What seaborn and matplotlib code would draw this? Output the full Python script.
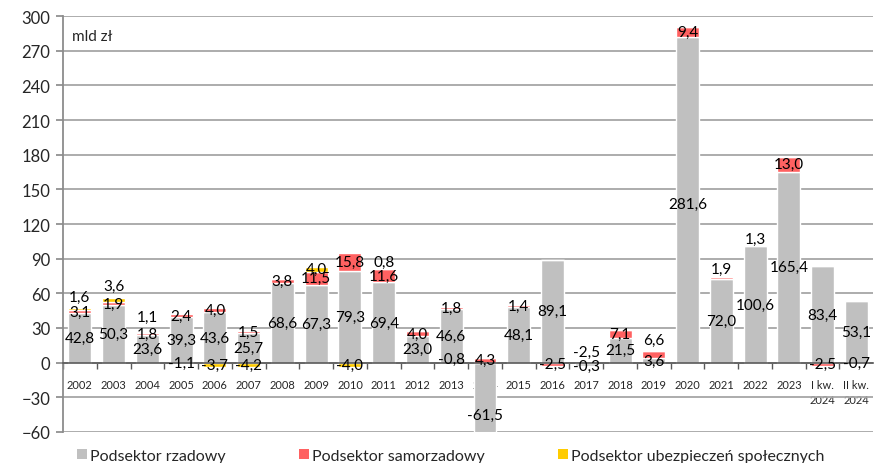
import matplotlib
matplotlib.use("Agg")
import matplotlib.pyplot as plt
from matplotlib.patches import Patch
import numpy as np
import seaborn as sns

# data (mld zł)
categories = ["2002", "2003", "2004", "2005", "2006", "2007", "2008", "2009",
              "2010", "2011", "2012", "2013", "2014", "2015", "2016", "2017",
              "2018", "2019", "2020", "2021", "2022", "2023",
              "I kw.\n2024", "II kw.\n2024"]
rzadowy = [42.8, 50.3, 23.6, 39.3, 43.6, 25.7, 68.6, 67.3, 79.3, 69.4, 23.0, 46.6,
           -61.5, 48.1, 89.1, -2.5, 21.5, 3.6, 281.6, 72.0, 100.6, 165.4, 83.4, 53.1]
samorzadowy = [3.1, 1.9, 1.8, 2.4, 4.0, 1.5, 3.8, 11.5, 15.8, 11.6, 4.0, 1.8,
               4.3, 1.4, -2.5, -0.3, 7.1, 6.6, 9.4, 1.9, 1.3, 13.0, -2.5, -0.7]
ubezpieczen = [1.6, 3.6, 1.1, -1.1, -3.7, -4.2, 0.0, 4.0, -4.0, 0.8, 0.0, -0.8,
               0.0, 0.0, 0.0, 0.0, 0.0, 0.0, 0.0, 0.0, 0.0, 0.0, 0.0, 0.0]
series_names = ["Podsektor rzadowy", "Podsektor samorzadowy",
                "Podsektor ubezpieczeń społecznych"]
colors = ["#c0c0c0", "#ff6161", "#ffcc00"]

# manual label nudges (pixels up), like moved labels in the original
nudges = {(2, 0): 12, (2, 1): 14, (2, 2): 16, (2, 9): 7, (2, 11): 4,
          (1, 19): 9, (1, 20): 7, (1, 17): 15,
          (0, 15): 12, (0, 12): -17, (0, 18): -4}

sns.set_theme(style="white")
plt.rcParams["font.family"] = ["Lato", "DejaVu Sans"]

fig = plt.figure(figsize=(8.75, 4.64), dpi=100)
ax = fig.add_axes([0.072, 0.067, 0.926, 0.896])

x = np.arange(len(categories))
width = 0.68

sns.barplot(x=categories, y=rzadowy, color=colors[0], saturation=1,
            width=width, ax=ax, zorder=2)

pos_base = np.where(np.array(rzadowy) > 0, rzadowy, 0.0)
neg_base = np.where(np.array(rzadowy) < 0, rzadowy, 0.0)
label_pos = [[v / 2 for v in rzadowy]]
for vals, col in [(samorzadowy, colors[1]), (ubezpieczen, colors[2])]:
    vals = np.array(vals)
    bottom = np.where(vals >= 0, pos_base, neg_base)
    ax.bar(x, vals, bottom=bottom, width=width, color=col, zorder=2)
    label_pos.append(list(bottom + vals / 2))
    pos_base = pos_base + np.where(vals > 0, vals, 0)
    neg_base = neg_base + np.where(vals < 0, vals, 0)

# data labels
for s, vals in enumerate([rzadowy, samorzadowy, ubezpieczen]):
    for i, v in enumerate(vals):
        if v == 0:
            continue
        ax.annotate(f"{v:.1f}".replace(".", ","), (i, label_pos[s][i]),
                    xytext=(0, nudges.get((s, i), 0)), textcoords="offset pixels",
                    ha="center", va="center", fontsize=11, color="black", zorder=5)

# axes styling
ax.set_xlim(-0.5, len(categories) - 0.5)
ax.set_ylim(-60, 300)
ax.set_yticks(np.arange(-60, 301, 30))
ax.yaxis.grid(True, color="#a6a6a6", linewidth=1.3, zorder=0)
ax.set_axisbelow(True)
for side in ["top", "right"]:
    ax.spines[side].set_visible(False)
ax.spines["left"].set_color("#8c8c8c")
ax.spines["left"].set_linewidth(1.3)
ax.spines["bottom"].set_position(("data", 0))
ax.spines["bottom"].set_color("#595959")
ax.spines["bottom"].set_linewidth(1.2)
ax.spines["bottom"].set_zorder(4)
ax.tick_params(axis="y", left=True, length=5, color="#8c8c8c", labelsize=12, pad=4)
ax.tick_params(axis="x", which="major", bottom=False, labelsize=8, pad=6)
ax.set_xticks(x - 0.5, minor=True)
ax.tick_params(axis="x", which="minor", bottom=True, length=4, color="#595959")
for lab in ax.get_xticklabels():
    lab.set_linespacing(1.4)
ax.set_xlabel("")
ax.set_ylabel("")

ax.text(0.011, 0.952, "mld zł", transform=ax.transAxes, fontsize=11,
        ha="left", va="center")

handles = [Patch(facecolor=c, edgecolor="none") for c in colors]
fig.legend(handles, series_names, loc="center", bbox_to_anchor=(0.515, 0.015),
           ncol=3, frameon=False, fontsize=11.5, handlelength=0.6, handleheight=0.6,
           handletextpad=0.2, columnspacing=4.6)

fig.savefig("out.png", dpi=100)
